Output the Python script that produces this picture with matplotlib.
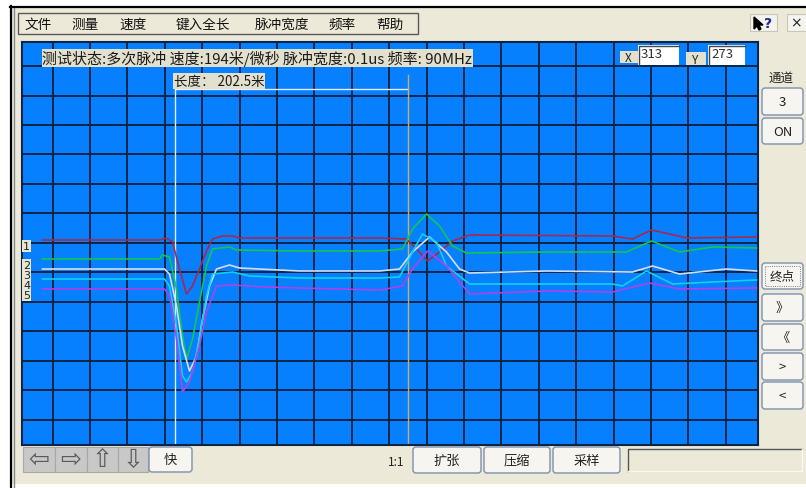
import numpy as np
import matplotlib
matplotlib.use('Agg')
import matplotlib.pyplot as plt
from matplotlib.patches import Rectangle, FancyBboxPatch, Polygon

plt.rcParams['font.family'] = ['Noto Sans CJK SC', 'DejaVu Sans']

# 五个通道的波形: 采样点 / 幅度 (屏幕单位)
ch1_x = [21, 138, 145, 151, 158, 165, 171, 178, 185, 191, 201, 211, 218, 278, 358, 385, 395, 406, 418, 431, 448, 591, 611, 630, 648, 665, 735]
ch1_y = [205, 205, 207, 203, 176, 151, 159, 176, 194, 206, 209, 209, 207, 207, 207, 206, 196, 184, 193, 204, 210, 209, 206, 215, 211, 207, 208]

ch2_x = [21, 138, 141, 148, 155, 160, 165, 171, 178, 185, 191, 208, 215, 278, 358, 381, 391, 405, 418, 431, 445, 525, 605, 630, 658, 691, 735]
ch2_y = [186, 186, 190, 188, 156, 116, 86, 106, 143, 179, 196, 198, 195, 194, 194, 196, 216, 231, 219, 199, 192, 193, 193, 204, 193, 198, 197]

ch3_x = [21, 143, 148, 155, 161, 168, 175, 181, 188, 195, 208, 218, 278, 358, 378, 391, 408, 425, 438, 448, 525, 611, 631, 658, 705, 735]
ch3_y = [176, 176, 171, 139, 99, 74, 89, 126, 159, 176, 180, 177, 174, 174, 176, 193, 208, 193, 176, 172, 174, 173, 179, 171, 176, 174]

ch4_x = [21, 143, 148, 155, 161, 165, 171, 178, 185, 191, 211, 228, 278, 358, 378, 391, 401, 415, 425, 448, 591, 601, 625, 651, 691, 735]
ch4_y = [166, 166, 159, 119, 69, 63, 73, 106, 149, 171, 173, 169, 167, 167, 168, 193, 211, 203, 179, 161, 161, 159, 174, 161, 163, 165]

ch5_x = [21, 143, 148, 155, 161, 168, 178, 185, 195, 211, 245, 278, 358, 381, 391, 406, 425, 448, 525, 591, 628, 658, 735]
ch5_y = [156, 156, 149, 106, 53, 63, 99, 133, 159, 160, 158, 157, 155, 159, 176, 194, 179, 151, 154, 153, 162, 156, 157]

channels = ['1', '2', '3', '4', '5']
colors = ['#A8284C', '#10C850', '#D8DCF0', '#10D0F0', '#B040E8']

cursor_a = 153
cursor_b = 386
length_text = '长度： 202.5米'
status_text = '测试状态:多次脉冲 速度:194米/微秒 脉冲宽度:0.1us 频率: 90MHz'
x_read, y_read = '313', '273'
menu_items = ['文件', '测量', '速度', '键入全长', '脉冲宽度', '频率', '帮助']
right_buttons = ['3', 'ON', '终点', '》', '《', '>', '<']
bottom_buttons = ['扩张', '压缩', '采样']

BEIGE = '#ECE9D8'
BLUE = '#0680FF'
GRID = '#0A2546'

W, H = 806, 489
fig = plt.figure(figsize=(W / 100, H / 100), dpi=100)
fig.patch.set_facecolor('white')

# 窗口背景 (像素坐标)
bg = fig.add_axes([0, 0, 1, 1])
bg.set_xlim(0, W)
bg.set_ylim(H, 0)
bg.axis('off')
bg.add_patch(Rectangle((11, 8), W - 11, 477, fc=BEIGE, ec='none'))
bg.plot([10.5, 10.5], [7, H], color='black', lw=1.6)
bg.plot([13.5, 13.5], [9, H], color='#8a8a8a', lw=1.0)
bg.plot([10, W], [7.5, 7.5], color='black', lw=1.6)


def button(a, x0, y0, x1, y1, label, fc='#F6F5F0', ec='#7D90AE', fs=8, tc='#222222'):
    a.add_patch(FancyBboxPatch((x0, y0), x1 - x0, y1 - y0,
                               boxstyle='round,pad=0,rounding_size=3',
                               fc=fc, ec=ec, lw=1.0))
    a.text((x0 + x1) / 2, (y0 + y1) / 2, label, ha='center', va='center',
           fontsize=fs, color=tc)


# 菜单栏
bg.add_patch(Rectangle((18, 14), 400, 21, fc=BEIGE, ec='#5a5a5a', lw=1.0))
menu_pos = [38, 85, 133, 203, 282, 342, 390]
for m, px in zip(menu_items, menu_pos):
    bg.text(px, 25, m, ha='center', va='center', fontsize=9.8, color='#111111')

# 右上角按钮
bg.add_patch(Rectangle((750, 15), 27, 17, fc='#F4F3EE', ec='#C9C6B8', lw=0.8))
bg.add_patch(Polygon([[754, 18], [754, 30], [757, 27], [759, 31], [761, 30], [759, 26], [763, 26]],
                     closed=True, fc='black', ec='black'))
bg.text(768, 23.5, '?', ha='center', va='center', fontsize=10, fontweight='bold',
        color='#1C2E8C', family='DejaVu Sans')
bg.add_patch(Rectangle((787, 15), 22, 17, fc='#F4F3EE', ec='#C9C6B8', lw=0.8))
bg.text(796, 23.5, '×', ha='center', va='center', fontsize=10, color='#222222',
        family='DejaVu Sans')

# 右侧面板
bg.text(781, 78, '通道', ha='center', va='center', fontsize=9, color='#222222')
rb_y = [(89, 116), (119, 145), (264, 290), (295, 322), (325, 351), (354, 381), (383, 410)]
for lab, (y0, y1) in zip(right_buttons, rb_y):
    button(bg, 762, y0, 803, y1, lab, fs=9.5 if lab != '终点' else 9)
bg.add_patch(Rectangle((765, 267), 35, 20, fc='none', ec='#555555', lw=0.6, ls=':'))

# 底部按钮
arrows = ['⇦', '⇨', '⇧', '⇩']
ab = [(23, 55), (55, 87), (87, 118), (118, 148)]
for a_lab, (x0, x1) in zip(arrows, ab):
    bg.add_patch(Rectangle((x0, 448), x1 - x0, 25, fc='#C8C8C8', ec='#A8A8A8', lw=0.8))
    bg.text((x0 + x1) / 2, 460, a_lab, ha='center', va='center', fontsize=18,
            color='#5a5a5a', family='DejaVu Sans')
button(bg, 149, 448, 192, 473, '快', fs=9.5)
bg.text(396, 463, '1:1', ha='center', va='center', fontsize=8.5, color='#222222')
bb_x = [(413, 481), (484, 550), (553, 620)]
for lab, (x0, x1) in zip(bottom_buttons, bb_x):
    button(bg, x0, 448, x1, 474, lab, fs=9.5)
bg.plot([628, 628, 802], [472, 450, 450], color='#555555', lw=1.0)
bg.plot([628, 802, 802], [472, 472, 450], color='#F8F8F4', lw=1.0)

# 波形区
ax = fig.add_axes([21.5 / W, 1 - 446 / H, 736.5 / W, 403 / H])
ax.set_facecolor(BLUE)
ax.set_xlim(0, 736.5)
ax.set_ylim(0, 403)
ax.set_xticks([])
ax.set_yticks([])
for s in ax.spines.values():
    s.set_color(GRID)
    s.set_linewidth(1.5)
for gx in np.arange(31, 736, 37.4):
    ax.axvline(gx, color=GRID, lw=1.4, zorder=1)
for gy in np.arange(25.5, 403, 29.45):
    ax.axhline(gy, color=GRID, lw=1.4, zorder=1)

# 光标
ax.plot([cursor_a, cursor_a], [0, 356], color='#E8ECF8', lw=1.0, zorder=2)
ax.plot([cursor_a, cursor_b], [356, 356], color='#E8ECF8', lw=1.0, zorder=2)
ax.plot([cursor_b, cursor_b], [0, 370], color='#D4A868', lw=1.0, zorder=2)

series = [(ch1_x, ch1_y), (ch2_x, ch2_y), (ch3_x, ch3_y), (ch4_x, ch4_y), (ch5_x, ch5_y)]
for (xs, ys), c in zip(series, colors):
    ax.plot(xs, ys, color=c, lw=1.2, zorder=3)

# 通道标签
for lab, (xs, ys) in zip(channels, series):
    ax.text(5, ys[0] - 6, lab, ha='center', va='center', fontsize=8, color='#222222',
            family='DejaVu Sans', zorder=4,
            bbox=dict(boxstyle='square,pad=0.12', fc='#E8E4D2', ec='none'))

# 状态信息
lbl = dict(boxstyle='square,pad=0.06', fc='#E4E0CE', ec='none')
ax.text(21, 446 - 59, status_text, ha='left', va='center', fontsize=10.8,
        color='#1a1a1a', zorder=5, bbox=lbl)
ax.text(cursor_a - 1, 446 - 82, length_text, ha='left', va='center', fontsize=9.7,
        color='#1a1a1a', zorder=5, bbox=lbl)

ov = fig.add_axes([0, 0, 1, 1], zorder=5)
ov.set_xlim(0, W)
ov.set_ylim(H, 0)
ov.axis('off')
ov.add_patch(Rectangle((620, 52), 18, 12, fc='#E4E0CE', ec='none'))
ov.text(628, 58, 'X', ha='center', va='center', fontsize=8.5, color='#222222')
ov.add_patch(Rectangle((638, 46), 41, 20, fc='white', ec='none'))
ov.plot([639, 639, 679], [66, 47, 47], color='#444444', lw=1.0)
ov.text(641, 55, x_read, ha='left', va='center', fontsize=9.5, color='#333333')
ov.add_patch(Rectangle((686, 53), 20, 13, fc='#E4E0CE', ec='none'))
ov.text(695, 60, 'Y', ha='center', va='center', fontsize=8.5, color='#222222')
ov.add_patch(Rectangle((708, 46), 37, 20, fc='white', ec='none'))
ov.plot([709, 709, 745], [66, 47, 47], color='#444444', lw=1.0)
ov.text(711, 55, y_read, ha='left', va='center', fontsize=9.5, color='#333333')

fig.savefig('out.png', dpi=100)
